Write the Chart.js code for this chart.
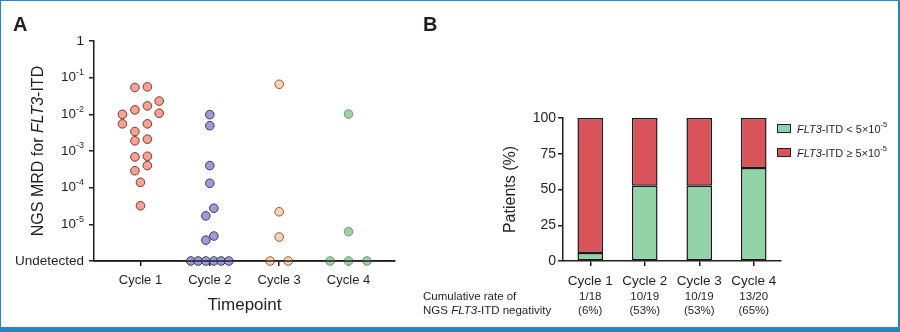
<!DOCTYPE html>
<html>
<head>
<meta charset="UTF-8">
<title>NGS MRD for FLT3-ITD</title>
<script src="https://cdn.jsdelivr.net/npm/chart.js"></script>
<style>
    body {
        margin: 0;
        background: #fff;
        font-family: "Liberation Sans", Arial, Helvetica, sans-serif;
        color: #231f20;
    }
    .page {
        position: relative;
        width: 900px;
        height: 332px;
        overflow: hidden;
    }
    .frame {
        position: absolute;
        left: 0; top: 0;
        width: 900px; height: 332px;
        box-sizing: border-box;
        border: 1px solid #2784c3;
        border-right-width: 2px;
        border-bottom-width: 5px;
        pointer-events: none;
    }
    .panel {
        position: absolute;
        top: 0;
        width: 450px;
        height: 332px;
    }
    .tag {
        position: absolute;
        font-weight: bold;
        font-size: 20px;
        line-height: 20px;
    }
    .legend {
        position: absolute;
        left: 777px;
        top: 119px;
        font-size: 11px;
    }
    .legend div {
        height: 24px;
        line-height: 20px;
        white-space: nowrap;
    }
    .swatch {
        display: inline-block;
        width: 12px;
        height: 7px;
        border: 1px solid #231f20;
        margin-right: 6px;
        vertical-align: 0px;
    }
    sup { font-size: 7.5px; vertical-align: 6px; line-height: 0; }
    .note {
        position: absolute;
        left: 423px;
        top: 289px;
        font-size: 11.5px;
        line-height: 14px;
    }
</style>
</head>
<body>
<div class="page">
    <div class="panel" style="left:0"><canvas id="mrdChart"></canvas></div>
    <div class="panel" style="left:450px"><canvas id="rateChart"></canvas></div>

    <div class="tag" style="left:13px;top:14px">A</div>
    <div class="tag" style="left:423px;top:14px">B</div>

    <div class="legend">
        <div><span class="swatch" style="background:#93d3a8"></span><i>FLT3</i>-ITD &lt; 5×10<sup>-5</sup></div>
        <div><span class="swatch" style="background:#d9535b"></span><i>FLT3</i>-ITD ≥ 5×10<sup>-5</sup></div>
    </div>
    <div class="note">Cumulative rate of<br>NGS <i>FLT3</i>-ITD negativity</div>

    <div class="frame"></div>
</div>

<script>
    const family = '"Liberation Sans", Arial, Helvetica, sans-serif';
    const ink = '#231f20';

    const cycleLabels = ['Cycle 1', 'Cycle 2', 'Cycle 3', 'Cycle 4'];

    // NGS MRD per patient (null = undetected) and the sideways spread of each dot
    const mrdC1 = [0.054, 0.056, 0.023, 0.0107, 0.010, 0.0132, 0.017, 0.0055, 0.0055,
                   0.0034, 0.0019, 0.0021, 0.00069, 0.00072, 0.0004, 0.00029, 0.00014, 0.000032];
    const spreadC1 = [-0.08, 0.1, 0.27, 0.27, -0.26, -0.08, 0.1, -0.26, 0.1,
                      -0.08, -0.08, 0.1, -0.08, 0.1, 0.1, -0.08, 0, 0];

    const mrdC2 = [0.0098, 0.0049, 0.0004, 0.000132, 0.0000275, 0.000017, 0.0000048, 0.0000037,
                   null, null, null, null, null, null];
    const spreadC2 = [0, 0, 0, 0, 0.058, -0.058, 0.058, -0.058,
                      -0.274, -0.169, -0.058, 0.058, 0.163, 0.274];

    const mrdC3 = [0.066, 0.000022, 0.0000045, null, null];
    const spreadC3 = [0, 0, 0, -0.13, 0.13];

    const mrdC4 = [0.0102, 0.0000063, null, null, null];
    const spreadC4 = [0, 0, -0.265, 0, 0.265];

    // patients below 5x10^-5 out of patients tested, per cycle
    const negCount = [1, 10, 10, 13];
    const totalCount = [18, 19, 19, 20];

    const UNDETECTED_AT = 1e-6;
    const dotFill = ['#f6a395', '#9e9cd4', '#fdd3b5', '#9ed0a9'];
    const dotEdge = ['#7b3328', '#37356e', '#8c5a3e', '#6f9176'];

    function swarm(cycle, values, spread) {
        return values.map((v, i) => ({ x: cycle + spread[i], y: v === null ? UNDETECTED_AT : v }));
    }

    Chart.defaults.font.family = family;
    Chart.defaults.color = ink;
    Chart.defaults.animation = false;

    const axisGrid = {
        display: true,
        drawOnChartArea: false,
        drawTicks: true,
        tickLength: 5,
        color: ink,
        lineWidth: 1.5
    };
    const axisBorder = { display: true, color: ink, width: 1.5 };

    // superscript tick labels, the rotated title, and the x axis line over the dots
    const mrdDecor = {
        id: 'mrdDecor',
        afterDatasetsDraw(chart) {
            const ctx = chart.ctx, area = chart.chartArea;
            ctx.save();
            ctx.strokeStyle = ink;
            ctx.lineWidth = 1.5;
            ctx.beginPath();
            ctx.moveTo(area.left, area.bottom);
            ctx.lineTo(area.right, area.bottom);
            ctx.stroke();
            ctx.restore();
        },
        afterDraw(chart) {
            const ctx = chart.ctx, y = chart.scales.y;
            const right = chart.chartArea.left - 10;
            ctx.save();
            ctx.fillStyle = ink;
            ctx.textBaseline = 'middle';
            ctx.textAlign = 'left';
            y.ticks.forEach(t => {
                const py = y.getPixelForValue(t.value);
                const exp = Math.round(Math.log10(t.value));
                let base, sup = '';
                if (t.value === UNDETECTED_AT) base = 'Undetected';
                else if (exp === 0) base = '1';
                else { base = '10'; sup = String(exp); }
                ctx.font = '13.5px ' + family;
                const wb = ctx.measureText(base).width;
                ctx.font = '9px ' + family;
                const ws = sup ? ctx.measureText(sup).width : 0;
                const x = right - wb - ws;
                ctx.font = '13.5px ' + family;
                ctx.fillText(base, x, py);
                if (sup) {
                    ctx.font = '9px ' + family;
                    ctx.fillText(sup, x + wb, py - 5);
                }
            });

            const parts = [['NGS MRD for ', ''], ['FLT3', 'italic '], ['-ITD', '']];
            const size = '16px ';
            let total = 0;
            parts.forEach(p => { ctx.font = p[1] + size + family; total += ctx.measureText(p[0]).width; });
            ctx.translate(39, (chart.chartArea.top + chart.chartArea.bottom) / 2);
            ctx.rotate(-Math.PI / 2);
            let x = -total / 2;
            parts.forEach(p => {
                ctx.font = p[1] + size + family;
                ctx.fillText(p[0], x, 0);
                x += ctx.measureText(p[0]).width;
            });
            ctx.restore();
        }
    };

    const mrdDatasets = [
        swarm(1, mrdC1, spreadC1),
        swarm(2, mrdC2, spreadC2),
        swarm(3, mrdC3, spreadC3),
        swarm(4, mrdC4, spreadC4)
    ].map((pts, i) => ({
        label: cycleLabels[i],
        data: pts,
        backgroundColor: dotFill[i],
        borderColor: dotEdge[i],
        borderWidth: 1,
        pointRadius: 4.3,
        clip: false
    }));

    new Chart(document.getElementById('mrdChart'), {
        type: 'scatter',
        data: { datasets: mrdDatasets },
        options: {
            responsive: true,
            maintainAspectRatio: false,
            layout: { padding: { left: 0, top: 41, right: 55, bottom: 0 } },
            plugins: { legend: { display: false }, tooltip: { enabled: false } },
            scales: {
                x: {
                    type: 'linear',
                    min: 0.33,
                    max: 4.67,
                    afterBuildTicks: s => { s.ticks = [1, 2, 3, 4].map(v => ({ value: v })); },
                    afterFit: s => { s.height = 71; },
                    grid: axisGrid,
                    border: axisBorder,
                    ticks: {
                        font: { size: 13 },
                        padding: 7,
                        callback: v => cycleLabels[v - 1]
                    },
                    title: {
                        display: true,
                        text: 'Timepoint',
                        font: { size: 17 },
                        padding: { top: 0, bottom: 16 }
                    }
                },
                y: {
                    type: 'logarithmic',
                    min: UNDETECTED_AT,
                    max: 1,
                    afterBuildTicks: s => {
                        s.ticks = [1e-6, 1e-5, 1e-4, 1e-3, 1e-2, 1e-1, 1].map(v => ({ value: v }));
                    },
                    afterFit: s => { s.width = 94; },
                    grid: axisGrid,
                    border: axisBorder,
                    ticks: { callback: () => '' }
                }
            }
        },
        plugins: [mrdDecor]
    });

    // counts and rates written under each bar
    const rateNotes = {
        id: 'rateNotes',
        afterDraw(chart) {
            const ctx = chart.ctx, x = chart.scales.x;
            ctx.save();
            ctx.fillStyle = ink;
            ctx.font = '11.5px ' + family;
            ctx.textAlign = 'center';
            ctx.textBaseline = 'middle';
            negCount.forEach((n, i) => {
                const px = x.getPixelForValue(i);
                const pct = Math.round(n / totalCount[i] * 100);
                ctx.fillText(n + '/' + totalCount[i], px, 297);
                ctx.fillText('(' + pct + '%)', px, 311);
            });
            ctx.restore();
        }
    };

    const barBase = {
        borderColor: '#1a1a1a',
        borderWidth: 1.5,
        borderSkipped: false,
        categoryPercentage: 1,
        barPercentage: 0.47
    };

    new Chart(document.getElementById('rateChart'), {
        type: 'bar',
        data: {
            labels: cycleLabels,
            datasets: [
                Object.assign({
                    label: 'FLT3-ITD < 5x10-5',
                    data: negCount.map((n, i) => n / totalCount[i] * 100),
                    backgroundColor: '#93d3a8'
                }, barBase),
                Object.assign({
                    label: 'FLT3-ITD >= 5x10-5',
                    data: negCount.map((n, i) => (totalCount[i] - n) / totalCount[i] * 100),
                    backgroundColor: '#d9535b'
                }, barBase)
            ]
        },
        options: {
            responsive: true,
            maintainAspectRatio: false,
            layout: { padding: { left: 0, top: 118, right: 119, bottom: 0 } },
            plugins: { legend: { display: false }, tooltip: { enabled: false } },
            scales: {
                x: {
                    stacked: true,
                    afterFit: s => { s.height = 71; },
                    grid: Object.assign({ offset: false }, axisGrid),
                    border: axisBorder,
                    ticks: { font: { size: 13.5 }, padding: 7 }
                },
                y: {
                    stacked: true,
                    min: 0,
                    max: 100,
                    afterFit: s => { s.width = 113; },
                    grid: axisGrid,
                    border: axisBorder,
                    ticks: { stepSize: 25, font: { size: 14 }, padding: 2 },
                    title: {
                        display: true,
                        text: 'Patients (%)',
                        font: { size: 16 },
                        padding: { top: 51, bottom: 0 }
                    }
                }
            }
        },
        plugins: [rateNotes]
    });
</script>
</body>
</html>
